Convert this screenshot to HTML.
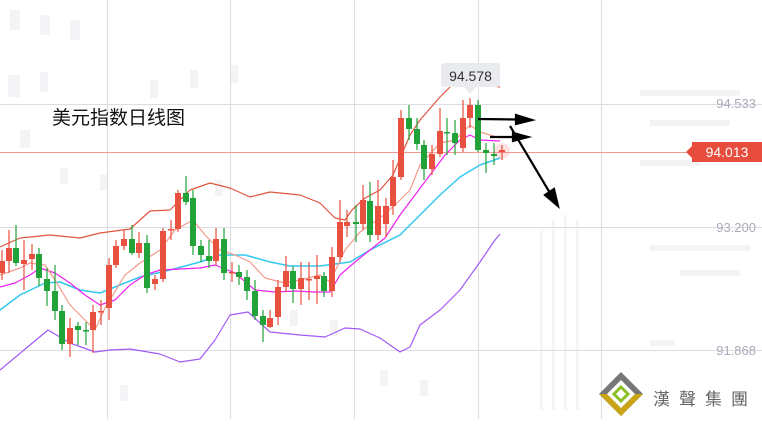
<!DOCTYPE html>
<html><head><meta charset="utf-8"><style>
html,body{margin:0;padding:0;background:#fff;}
body{width:762px;height:419px;overflow:hidden;position:relative;font-family:"Liberation Sans","Noto Sans CJK SC",sans-serif;}
</style></head><body>
<svg id="s" width="762" height="419" viewBox="0 0 762 419" xmlns="http://www.w3.org/2000/svg">
<g fill="#f4f4f7">
<rect x="10" y="10" width="10" height="20"/><rect x="40" y="15" width="10" height="20"/><rect x="70" y="20" width="10" height="20"/>
<rect x="8" y="75" width="12" height="22"/><rect x="40" y="72" width="8" height="20"/><rect x="150" y="80" width="8" height="18"/>
<rect x="190" y="70" width="8" height="18"/><rect x="230" y="65" width="8" height="18"/><rect x="20" y="130" width="10" height="18"/>
<rect x="60" y="168" width="8" height="16"/><rect x="100" y="175" width="8" height="16"/><rect x="215" y="180" width="8" height="16"/>
<rect x="250" y="300" width="8" height="16"/><rect x="290" y="310" width="8" height="16"/><rect x="330" y="320" width="8" height="16"/>
<rect x="380" y="370" width="8" height="16"/><rect x="420" y="380" width="8" height="16"/><rect x="120" y="385" width="8" height="16"/>
<rect x="640" y="90" width="100" height="6"/><rect x="650" y="120" width="80" height="6"/><rect x="640" y="160" width="60" height="6"/>
<rect x="650" y="245" width="100" height="6"/><rect x="680" y="270" width="60" height="6"/><rect x="650" y="340" width="25" height="6"/>
<rect x="540" y="230" width="3" height="180"/><rect x="552" y="220" width="3" height="190"/><rect x="564" y="215" width="3" height="195"/><rect x="576" y="220" width="3" height="190"/>
</g>
<g stroke="#dcdce2" stroke-width="1">
<line x1="0" y1="104.5" x2="762" y2="104.5"/><line x1="0" y1="227.5" x2="762" y2="227.5"/><line x1="0" y1="350.5" x2="762" y2="350.5"/>
<line x1="107.5" y1="0" x2="107.5" y2="419"/><line x1="230.5" y1="0" x2="230.5" y2="419"/><line x1="354.5" y1="0" x2="354.5" y2="419"/><line x1="478.5" y1="0" x2="478.5" y2="419"/><line x1="601.5" y1="0" x2="601.5" y2="419"/>
</g>
<line x1="0" y1="152.5" x2="700" y2="152.5" stroke="#f19a92" stroke-width="1"/>
<g fill="none" stroke-width="1.2" stroke-linejoin="round">
<polyline stroke="#e0553e" points="0,247 20,238 50,235 80,238 100,233 130,229 150,211 170,210 190,190 210,183 230,188 250,197 270,192 300,195 320,203 335,218 345,220 352,210 365,198 380,190 393,175 410,135 420,120 440,97 455,82 470,77 487,85 500,87"/>
<polyline stroke="#a259f5" points="0,370 30,345 48,330 70,343 95,352 110,350 130,349 160,354 180,362 200,359 215,340 230,315 248,312 270,332 300,335 325,337 345,328 360,329 380,338 400,352 410,347 420,325 440,310 460,290 480,262 495,240 500,234"/>
<polyline stroke="#33c8ef" stroke-width="1.5" points="0,310 20,295 45,283 60,282 80,290 100,293 120,285 140,277 170,270 200,262 220,255 245,255 270,262 290,266 320,266 350,262 370,250 400,235 420,215 440,195 460,177 480,165 500,158"/>
<polyline stroke="#f020f0" points="0,287 15,283 30,275 40,268 55,273 70,283 85,295 100,305 115,300 130,285 145,275 160,270 200,268 215,265 235,273 255,290 275,292 295,291 315,292 330,292 340,275 355,262 370,250 385,238 400,215 415,195 430,175 445,155 460,140 470,135 480,140 500,141"/>
<polyline stroke="#f59a8c" points="0,275 20,268 30,263 45,265 55,280 70,305 85,320 95,330 105,308 125,275 140,263 160,250 175,230 193,220 205,235 220,250 235,255 250,262 265,278 285,283 300,280 320,275 330,282 345,250 360,232 380,218 395,205 410,190 420,165 440,143 455,140 470,125 480,132 500,138"/>
</g>
<g id="c"></g>
<rect x="441" y="63" width="59" height="24" rx="3" fill="#e9ebee"/>
<polygon points="464,87 476,87 470,94" fill="#e9ebee"/>
<text x="470.5" y="81" font-size="14" fill="#333" text-anchor="middle" font-family="Liberation Sans,sans-serif">94.578</text>
<circle cx="502" cy="151" r="8" fill="#f44" opacity="0.15"/>
<g stroke="#000" stroke-width="2.2" fill="#000">
<line x1="478" y1="119" x2="518" y2="119.5"/><polygon points="516,115 532,120 516,124"/>
<line x1="490" y1="137" x2="515" y2="137"/><polygon points="513,133 528,137 513,141"/>
<line x1="510" y1="126" x2="550" y2="193"/><polygon points="545,195 558,206 554,189"/>
</g>
<rect x="692" y="142" width="70" height="20" fill="#e84c3d"/>
<polygon points="686,152 692,146 692,158" fill="#e84c3d"/>
<text x="727" y="157" font-size="14" fill="#fff" text-anchor="middle" font-family="Liberation Sans,sans-serif">94.013</text>
<g font-size="13" fill="#a8abb8" font-family="Liberation Sans,sans-serif" text-anchor="end">
<text x="756" y="108">94.533</text><text x="756" y="232">93.200</text><text x="756" y="355">91.868</text>
</g>
<text x="52" y="124" font-size="19" fill="#111" font-family="Liberation Sans,Noto Sans CJK SC,sans-serif">美元指数日线图</text>
<g transform="translate(621,394)">
<polygon points="0,-22 22,0 0,22 -22,0" fill="#777"/>
<polygon points="-22,0 0,22 22,0 14,0 0,14 -14,0" fill="#c9a414"/>
<polygon points="0,-14 14,0 0,14 -14,0" fill="#fff"/>
<polygon points="0,-7 7,0 0,7 -7,0" fill="none" stroke="#8cbf26" stroke-width="3"/>
</g>
<text x="653" y="405" font-size="17" fill="#666" letter-spacing="9" font-family="Noto Sans CJK TC,sans-serif">漢聲集團</text>
</svg>
<script>
var R="#e8503f",G="#22a33a";
var d=[
[2,261,273,R,250,280],[9,248,261,R,230,273],[16,248,263,G,225,266],[24,260,264,R,240,290],[32,254,259,R,244,270],[39,254,278,G,248,286],[47,279,291,G,268,306],[55,291,311,G,265,320],[62,311,344,G,305,350],[70,328,344,R,318,357],[78,326,330,G,322,345],[86,330,331,G,322,345],[93,312,330,R,305,353],[101,311,312,R,300,325],[109,265,308,R,258,320],[116,246,265,R,240,268],[124,239,246,R,230,250],[132,239,253,G,225,255],[139,243,253,R,232,258],[147,243,288,G,235,293],[155,279,284,R,275,290],[163,231,279,R,228,282],[171,229,230,R,220,240],[178,193,229,R,190,232],[186,193,202,G,176,205],[193,198,246,G,190,255],[201,246,255,G,240,262],[209,256,261,G,240,268],[216,239,261,R,228,265],[224,239,273,G,228,280],[232,272,272,R,262,282],[239,272,277,G,265,285],[247,277,291,G,270,300],[255,291,316,G,280,320],[263,316,325,G,310,342],[270,318,327,R,310,328],[278,287,317,R,280,325],[286,271,287,R,256,292],[293,271,289,G,266,303],[301,278,289,R,262,305],[309,279,280,R,262,300],[317,276,279,R,255,304],[324,276,291,G,272,297],[332,257,291,R,247,297],[340,222,257,R,200,262],[347,222,226,R,210,237],[356,222,224,G,205,242],[363,200,224,R,185,230],[370,201,235,G,182,242],[378,206,235,R,180,240],[386,206,224,R,198,237],[393,177,206,R,160,215],[401,118,177,R,110,180],[409,118,129,G,105,140],[417,129,144,G,118,150],[424,145,169,G,140,180],[432,154,169,R,145,175],[440,131,154,R,108,157],[447,132,133,G,118,155],[455,133,143,G,120,155],[463,118,148,R,100,152],[470,105,118,R,98,128],[478,105,150,G,100,152],[486,150,153,G,143,173],[494,154,156,G,143,165],[502,150,152,R,145,160]];
var s="";d.forEach(function(c){var h=Math.max(c[2]-c[1],1.5);
s+='<line x1="'+c[0]+'" y1="'+c[4]+'" x2="'+c[0]+'" y2="'+c[5]+'" stroke="'+c[3]+'" stroke-width="1.2"/>';
s+='<rect x="'+(c[0]-3)+'" y="'+c[1]+'" width="6" height="'+h+'" fill="'+c[3]+'"/>';});
document.getElementById("c").innerHTML=s;
</script>
</body></html>
